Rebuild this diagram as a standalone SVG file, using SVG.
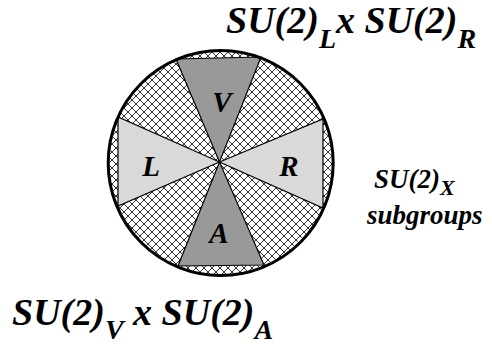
<svg xmlns="http://www.w3.org/2000/svg" width="492" height="345" viewBox="0 0 492 345">
<style>
.t{font-family:"Liberation Serif","Times New Roman",serif;font-weight:bold;font-style:italic;fill:#000}
.big{font-size:38px}
.sub{font-size:28px}
.mid{font-size:27px}
.msub{font-size:22px}
.let{font-size:29px;text-anchor:middle}
.wedge{stroke:#000;stroke-width:1.2;stroke-linejoin:miter}
.dark{fill:#999999}
.light{fill:#d9d9d9}
</style>
<defs>
<pattern id="hatch" patternUnits="userSpaceOnUse" width="8" height="8" x="0" y="0">
<rect width="8" height="8" fill="#fff"/>
<path d="M-1,-1 L9,9 M-1,9 L9,-1" stroke="#333" stroke-width="1"/>
</pattern>
</defs>
<g id="disk">
<circle cx="220.7" cy="163" r="112.5" fill="url(#hatch)"/>
</g>
<g id="V">
<polygon class="wedge dark" points="219.5,162 176,59 261,57"/>
<text class="t let" x="222" y="112">V</text>
</g>
<g id="A">
<polygon class="wedge dark" points="219.5,162 178,266 264,265"/>
<text class="t let" x="219" y="243">A</text>
</g>
<g id="L">
<polygon class="wedge light" points="219.5,162 118,117 118,206"/>
<text class="t let" x="151" y="176">L</text>
</g>
<g id="R">
<polygon class="wedge light" points="219.5,162 323,119 323,208"/>
<text class="t let" x="289" y="176">R</text>
</g>
<g id="outline">
<circle cx="220.7" cy="163" r="112.5" fill="none" stroke="#000" stroke-width="3"/>
</g>
<g id="labels">
<text class="t big" x="226" y="33">SU(2)<tspan class="sub" dy="15">L</tspan><tspan dy="-15">x SU(2)</tspan><tspan class="sub" dy="15">R</tspan></text>
<text class="t big" x="12" y="325">SU(2)<tspan class="sub" dy="14">V</tspan><tspan dy="-14"> x SU(2)</tspan><tspan class="sub" dy="14">A</tspan></text>
<text class="t mid" x="374" y="188">SU(2)<tspan class="msub" dy="7">X</tspan></text>
<text class="t mid" x="367" y="224">subgroups</text>
</g>
</svg>
